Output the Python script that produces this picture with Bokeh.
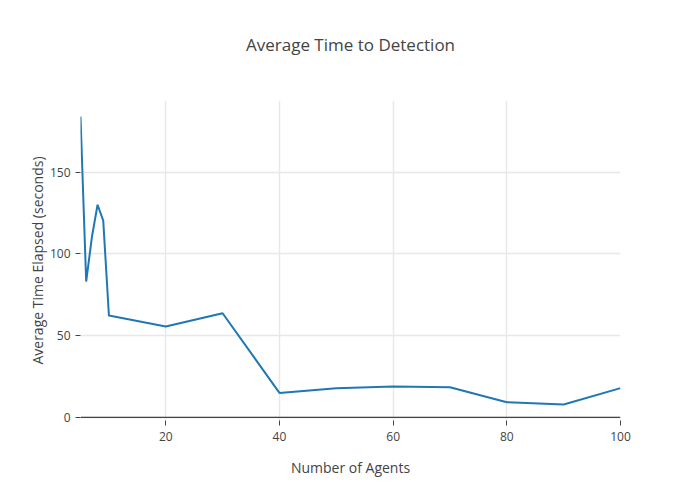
from bokeh.plotting import figure
from bokeh.models import Range1d, Span, FixedTicker, Title
from bokeh.embed import file_html
from bokeh.resources import INLINE

agents = [5, 6, 7, 8, 9, 10, 20, 30, 40, 50, 60, 70, 80, 90, 100]
avg_time = [184.1, 83.1, 110.2, 130.1, 120.4, 62.3, 55.6, 63.7, 15.0, 17.9, 18.9, 18.5, 9.3, 7.9, 17.9]
x_ticks = [20, 40, 60, 80, 100]
y_ticks = [0, 50, 100, 150]

FONT = "Open Sans"
TXT = "#444444"

p = figure(width=684, height=484, output_backend="svg", toolbar_location=None,
           x_range=Range1d(5, 100), y_range=Range1d(-1.9, 193.9),
           title="Average Time to Detection",
           min_border_left=80, min_border_right=64, min_border_top=100, min_border_bottom=64)
p.outline_line_color = None
p.background_fill_color = "white"
p.border_fill_color = "white"

# invisible spacer between frame and title
spacer = Title(text=" ", text_font_size="39px", text_color="white", standoff=0)
p.add_layout(spacer, "above")

p.title.align = "center"
p.title.text_font = FONT
p.title.text_font_size = "17px"
p.title.text_font_style = "normal"
p.title.text_color = TXT
p.title.standoff = 0

p.line(agents, avg_time, line_color="#1f77b4", line_width=2)

zero = Span(location=0, dimension="width", line_color="#444444", line_width=1.2)
p.add_layout(zero)

for ax in (p.xaxis[0], p.yaxis[0]):
    ax.axis_line_color = None
    ax.major_tick_in = 0
    ax.major_tick_out = 5
    ax.major_tick_line_color = TXT
    ax.minor_tick_line_color = None
    ax.major_label_text_font = FONT
    ax.major_label_text_font_size = "12px"
    ax.major_label_text_color = TXT
    ax.axis_label_text_font = FONT
    ax.axis_label_text_font_size = "14px"
    ax.axis_label_text_font_style = "normal"
    ax.axis_label_text_color = TXT

p.xaxis[0].ticker = FixedTicker(ticks=x_ticks)
p.yaxis[0].ticker = FixedTicker(ticks=y_ticks)
p.xaxis[0].axis_label = "Number of Agents"
p.yaxis[0].axis_label = "Average Time Elapsed (seconds)"
p.xaxis[0].major_label_standoff = 6
p.xaxis[0].axis_label_standoff = 14
p.yaxis[0].major_label_standoff = 5
p.yaxis[0].axis_label_standoff = 0

p.xgrid[0].grid_line_color = "#e8e8e8"
p.ygrid[0].grid_line_color = "#e8e8e8"
p.xgrid[0].grid_line_width = 1.5
p.ygrid[0].grid_line_width = 1.5

open("out.html", "w").write(file_html(p, INLINE))
